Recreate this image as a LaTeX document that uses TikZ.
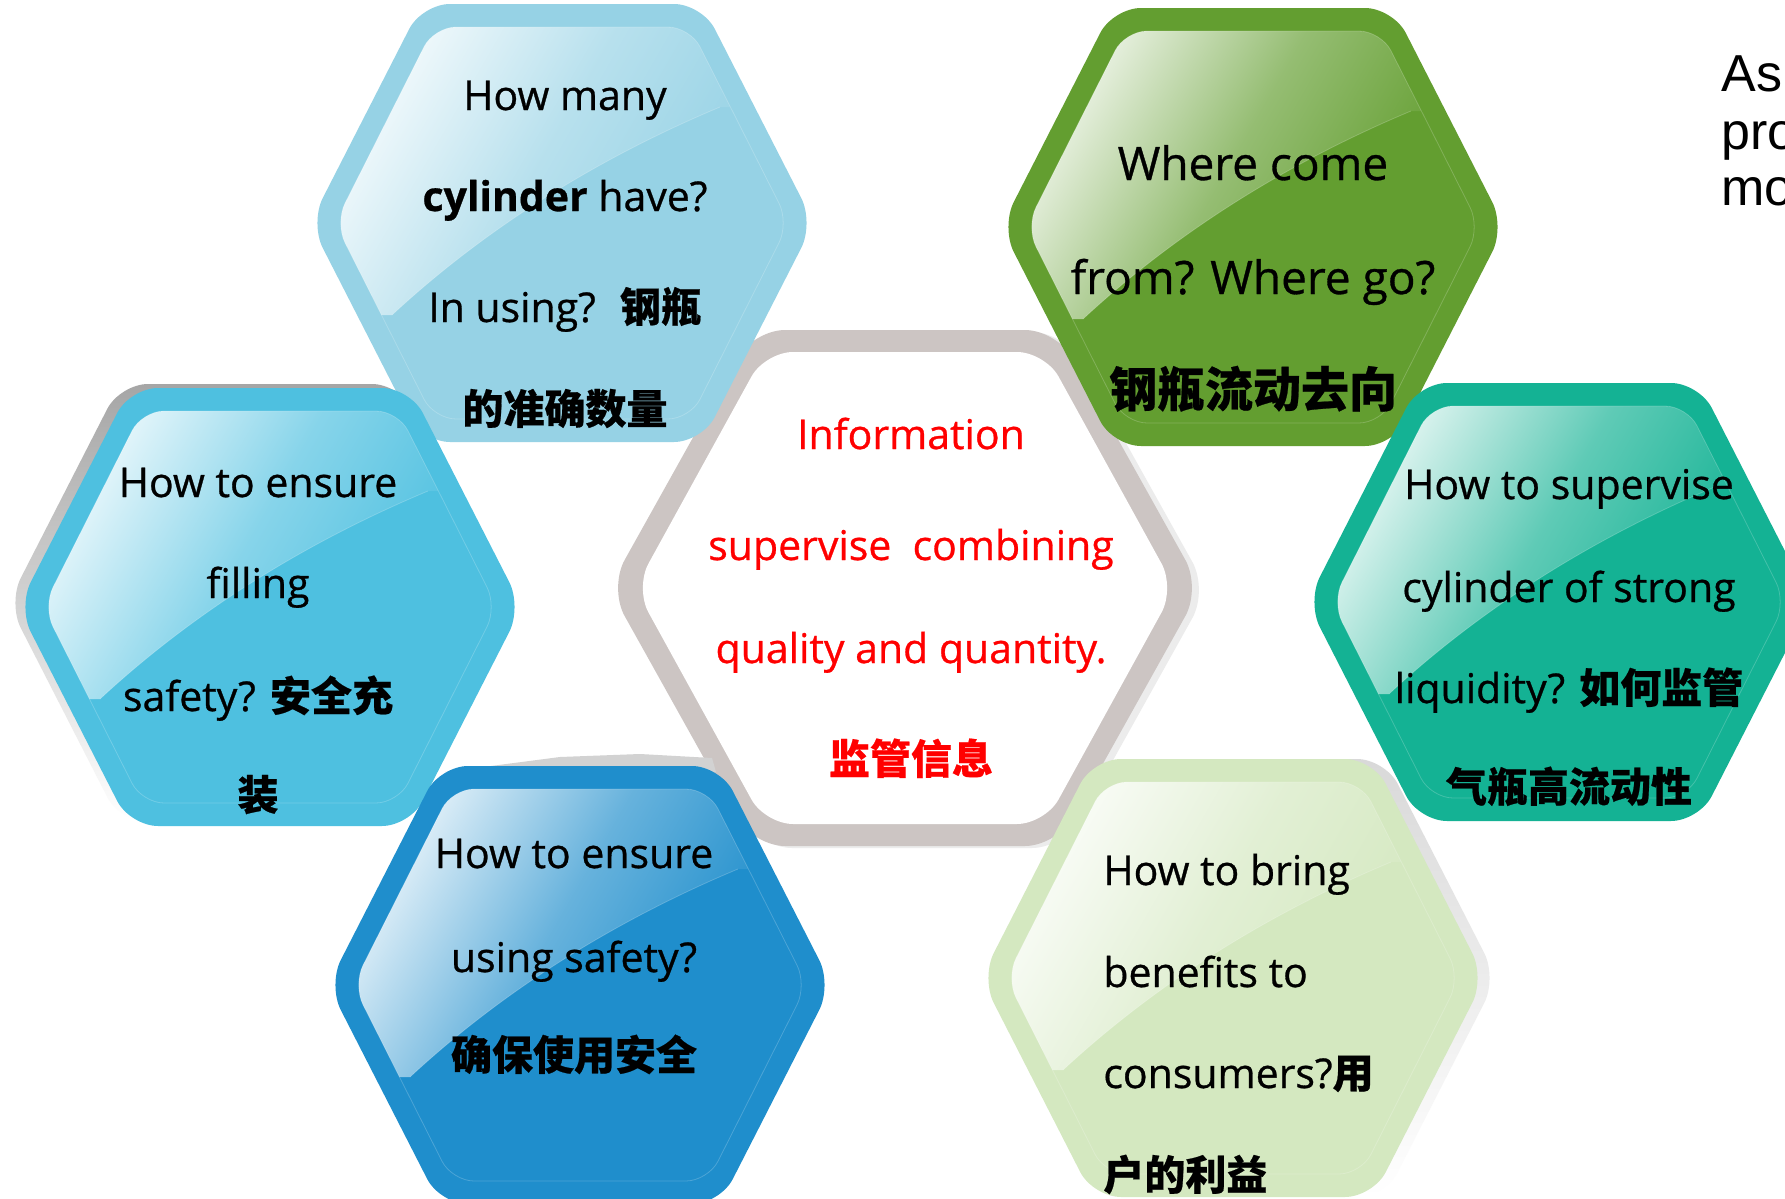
\documentclass[tikz,border=0pt]{standalone}
\usepackage{fontspec}
\setmainfont{Open Sans}[FakeBold=0.7]
\newfontfamily\cjk{Noto Sans CJK SC}[BoldFeatures={FakeBold=0.5}]
\newfontfamily\arialf{Liberation Sans}
\definecolor{cA}{RGB}{150,210,229}
\definecolor{cB}{RGB}{99,158,48}
\definecolor{cD}{RGB}{78,192,224}
\definecolor{cE}{RGB}{20,178,148}
\definecolor{cF}{RGB}{31,142,204}
\definecolor{cG}{RGB}{212,232,192}
\definecolor{cC}{RGB}{204,197,195}
\definecolor{redtxt}{RGB}{255,0,0}
\newcommand{\zh}[1]{{\cjk\bfseries #1}}
\newcommand{\hexouter}{(-252,0) -- (-140,-219) -- (140,-219) -- (252,0) -- (140,219) -- (-140,219) -- cycle}
\newcommand{\hexinner}{(-227,0) -- (-128,-196) -- (128,-196) -- (227,0) -- (128,196) -- (-128,196) -- cycle}
\newcommand{\hexcell}[3]{%
\begin{scope}[shift={(#1,#2)}]
  \fill[#3, rounded corners=14pt] \hexouter;
  \begin{scope}
    \clip[rounded corners=11pt] \hexinner;
    \clip (-300,-300) -- (300,-300) -- (300,-116) -- (158,-116) .. controls (60,-75) and (-60,-10) .. (-170,92) -- (-300,92) -- cycle;
    \shade[top color=white!90!#3, bottom color=#3, middle color=#3!68!white, shading angle=60] (-230,-200) rectangle (170,100);
  \end{scope}
  \draw[white, opacity=0.2, line width=0.4pt, rounded corners=11pt] \hexinner;
  \draw[white, opacity=0.2, line width=0.4pt] (158,-116) .. controls (60,-75) and (-60,-10) .. (-170,92);
\end{scope}}
\tikzset{
  tx/.style={anchor=base, inner sep=0pt, font=\fontsize{20.5}{24}\selectfont},
  txB/.style={anchor=base, inner sep=0pt, font=\fontsize{23}{27}\selectfont},
  txC/.style={tx, text=redtxt},
  txG/.style={tx, anchor=base west},
  side/.style={anchor=base west, inner sep=0pt, font=\arialf\fontsize{26}{30}\selectfont}
}
\begin{document}
\begin{tikzpicture}[x=0.5pt, y=-0.5pt]
\useasboundingbox (0,0) rectangle (1785,1199);
\fill[white] (0,0) rectangle (1785,1199);

% centre hexagon
\begin{scope}[shift={(912,590)}]
  \fill[gray!15, rounded corners=16pt] (-296,0) -- (-152,-258) -- (152,-258) -- (296,0) -- (152,258) -- (-152,258) -- cycle;
\end{scope}
\begin{scope}[shift={(905,588)}]
  \fill[cC, rounded corners=16pt] (-296,0) -- (-152,-258) -- (152,-258) -- (296,0) -- (152,258) -- (-152,258) -- cycle;
  \fill[white, rounded corners=14pt] (-270,0) -- (-140,-236) -- (140,-236) -- (270,0) -- (140,236) -- (-140,236) -- cycle;
\end{scope}

% shadows
\begin{scope}[shift={(260,603)}]
  \shade[top color=gray!70, bottom color=white, rounded corners=14pt] \hexouter;
\end{scope}
\begin{scope}[shift={(1245,978)}]
  \shade[top color=gray!30, bottom color=white, rounded corners=14pt] \hexouter;
\end{scope}
\fill[gray!35] (445,772) -- (560,757) -- (640,754) -- (712,758) -- (716,772) -- cycle;

% coloured hexagons
\hexcell{562}{223}{cA}
\hexcell{1253}{227}{cB}
\hexcell{270}{607}{cD}
\hexcell{1559}{602}{cE}
\hexcell{580}{985}{cF}
\hexcell{1233}{978}{cG}

% texts
\node[tx] (a1) at (565,110) {How many};
\node[tx] (a2) at (565,211) {\textbf{cylinder} have?};
\node[tx] (a3) at (565,322) {In using?\hspace{12pt}\zh{钢瓶}};
\node[tx] (a4) at (565,424) {\zh{的准确数量}};

\node[txB] (b1) at (1253,180) {Where come};
\node[txB] (b2) at (1253,294) {from? Where go?};
\node[txB] (b3) at (1253,407) {\fontsize{24}{28}\selectfont\zh{钢瓶流动去向}};

\node[txC] (c1) at (911,449) {Information};
\node[txC] (c2) at (911,560) {supervise\ \ combining};
\node[txC] (c3) at (911,663) {quality and quantity.};
\node[txC] (c4) at (911,774) {\zh{监管信息}};

\node[tx] (d1) at (258,497) {How to ensure};
\node[tx] (d2) at (258,598) {filling};
\node[tx] (d3) at (258,711) {safety? \zh{安全充}};
\node[tx] (d4) at (258,810) {\zh{装}};

\node[tx] (e1) at (1569,499) {How to supervise};
\node[tx] (e2) at (1569,602) {cylinder of strong};
\node[tx] (e3) at (1569,703) {liquidity? \zh{如何监管}};
\node[tx] (e4) at (1569,802) {\zh{气瓶高流动性}};

\node[tx] (f1) at (574,868) {How to ensure};
\node[tx] (f2) at (574,972) {using safety?};
\node[tx] (f3) at (574,1070) {\zh{确保使用安全}};

\node[txG] (g1) at (1103,885) {How to bring};
\node[txG] (g2) at (1103,987) {benefits to};
\node[txG] (g3) at (1103,1088) {consumers?\zh{用}};
\node[txG] (g4) at (1103,1190) {\zh{户的利益}};

\node[side] (r1) at (1721,91) {As};
\node[side] (r2) at (1721,149) {pro};
\node[side] (r3) at (1721,205) {mo};
\end{tikzpicture}
\end{document}
